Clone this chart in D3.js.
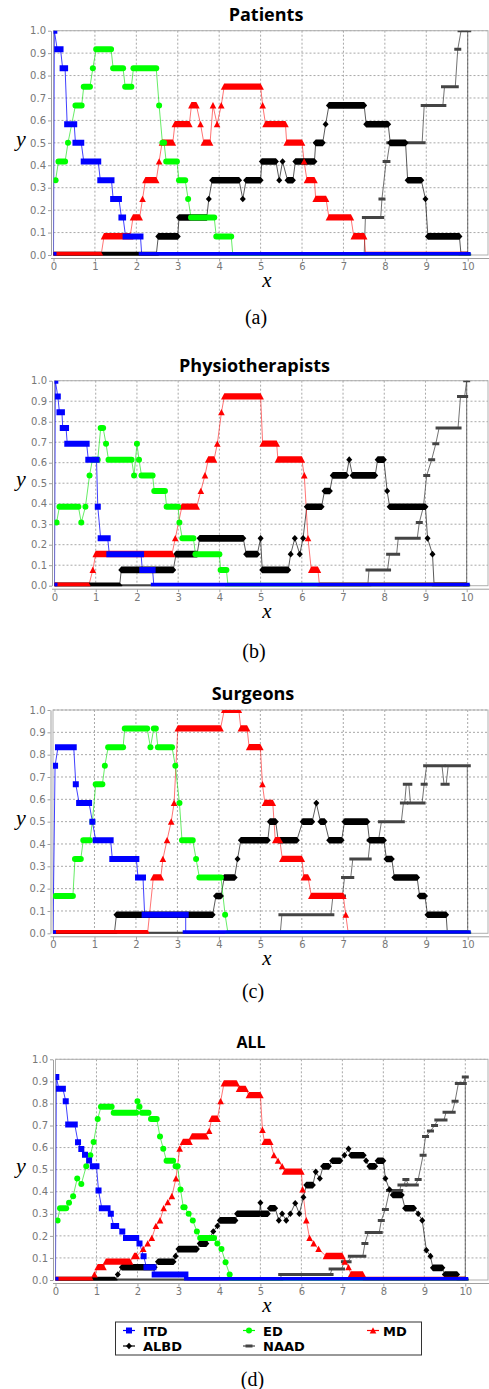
<!DOCTYPE html>
<html>
<head>
<meta charset="utf-8">
<script src="https://cdn.jsdelivr.net/npm/d3@7"></script>
<style>
  body { margin: 0; background: #fff; }
  svg { display: block; }
</style>
</head>
<body>
<div id="chart"></div>
<script>
// Step segments: [xStart, xEnd, y]
// (a marker is drawn at every sample, so a run of equal values shows as a bar)
const seriesNames = ["ITD", "ED", "MD", "ALBD", "NAAD"];
const panelTitles = ["Patients", "Physiotherapists", "Surgeons", "ALL"];
const panelLetters = ["(a)", "(b)", "(c)", "(d)"];
const xTicks = [0, 1, 2, 3, 4, 5, 6, 7, 8, 9, 10];
const yTicks = [0, 0.1, 0.2, 0.3, 0.4, 0.5, 0.6, 0.7, 0.8, 0.9, 1.0];

// (a) Patients
const patITD = [[0,0,0],[0.02,0.02,1],[0.09,0.17,0.917],[0.22,0.28,0.833],[0.33,0.5,0.583],[0.53,0.67,0.5],[0.73,1.08,0.417],[1.13,1.4,0.333],[1.44,1.58,0.25],[1.64,1.68,0.167],[1.74,2.1,0.083],[2.13,10,0]];
const patED = [[0.05,0.05,0.333],[0.12,0.28,0.417],[0.35,0.35,0.5],[0.53,0.68,0.667],[0.73,0.88,0.75],[0.95,0.95,0.833],[1.03,1.39,0.917],[1.44,1.68,0.833],[1.73,1.88,0.75],[1.93,2.48,0.833],[2.55,2.55,0.667],[2.63,2.67,0.5],[2.72,2.98,0.417],[3.03,3.18,0.333],[3.25,3.25,0.25],[3.32,3.88,0.167],[3.93,4.29,0.083],[4.33,10,0]];
const patMD = [[0,1.15,0],[1.22,1.85,0.083],[1.92,2.08,0.167],[2.15,2.15,0.25],[2.22,2.48,0.333],[2.55,2.55,0.417],[2.62,2.88,0.5],[2.93,3.28,0.583],[3.33,3.45,0.667],[3.55,3.55,0.583],[3.63,3.78,0.5],[3.85,3.85,0.667],[3.95,3.95,0.583],[4.05,4.05,0.667],[4.12,5.0,0.75],[5.05,5.05,0.667],[5.12,5.6,0.583],[5.63,6.0,0.5],[6.05,6.05,0.417],[6.12,6.3,0.333],[6.33,6.58,0.25],[6.65,7.18,0.167],[7.25,7.5,0.083],[7.54,10,0]];
const patALBD = [[0,2.48,0],[2.53,3.0,0.083],[3.03,3.7,0.167],[3.75,3.75,0.25],[3.83,4.48,0.333],[4.57,4.57,0.25],[4.65,5.0,0.333],[5.03,5.37,0.417],[5.45,5.45,0.333],[5.53,5.53,0.417],[5.65,5.78,0.333],[5.84,6.3,0.417],[6.33,6.5,0.5],[6.57,6.57,0.583],[6.65,7.5,0.667],[7.55,8.08,0.583],[8.13,8.5,0.5],[8.55,8.88,0.333],[8.98,8.98,0.25],[9.04,9.8,0.083],[9.84,10,0]];
const patNAAD = [[0,7.5,0],[7.53,7.9,0.167],[7.93,7.93,0.25],[8.03,8.05,0.417],[8.12,8.9,0.5],[8.95,9.4,0.667],[9.44,9.7,0.75],[9.76,9.76,0.917],[9.84,10,1.0],[10,10,0]];

// (b) Physiotherapists
const phyITD = [[0,0,0],[0.02,0.02,1],[0.08,0.08,0.923],[0.12,0.18,0.846],[0.2,0.28,0.769],[0.31,0.78,0.692],[0.82,1.02,0.615],[1.05,1.05,0.385],[1.12,1.29,0.231],[1.33,2.1,0.154],[2.13,2.38,0.077],[2.41,10,0]];
const phyED = [[0.05,0.05,0.308],[0.12,0.58,0.385],[0.65,0.65,0.308],[0.75,0.75,0.385],[0.85,0.85,0.538],[0.92,1.05,0.615],[1.12,1.18,0.769],[1.25,1.25,0.692],[1.31,1.87,0.615],[1.93,1.93,0.538],[2.0,2.0,0.692],[2.05,2.05,0.615],[2.11,2.38,0.538],[2.42,2.68,0.462],[2.72,3.0,0.385],[3.03,3.03,0.308],[3.1,3.37,0.231],[3.42,4.0,0.154],[4.03,4.17,0.077],[4.21,10,0]];
const phyMD = [[0,0.83,0],[0.93,0.93,0.077],[1.0,2.85,0.154],[2.93,2.93,0.231],[3.09,3.45,0.385],[3.55,3.55,0.462],[3.65,3.65,0.538],[3.73,3.87,0.615],[3.95,3.95,0.692],[4.05,4.05,0.846],[4.12,5.0,0.923],[5.05,5.39,0.692],[5.42,6.0,0.615],[6.06,6.06,0.538],[6.15,6.15,0.231],[6.23,6.39,0.077],[6.43,10,0]];
const phyALBD = [[0,1.58,0],[1.62,2.88,0.077],[2.95,3.46,0.154],[3.52,4.58,0.231],[4.65,4.92,0.154],[5.0,5.0,0.231],[5.04,5.67,0.077],[5.73,5.73,0.154],[5.83,5.83,0.231],[5.95,5.95,0.154],[6.03,6.03,0.231],[6.12,6.48,0.385],[6.55,6.68,0.462],[6.75,7.08,0.538],[7.15,7.15,0.615],[7.23,7.78,0.538],[7.84,7.99,0.615],[8.07,8.07,0.462],[8.13,9.0,0.385],[9.05,9.05,0.231],[9.17,9.17,0.154],[9.21,10,0]];
const phyNAAD = [[0,7.6,0],[7.63,8.08,0.077],[8.13,8.3,0.154],[8.34,8.8,0.231],[8.85,8.85,0.308],[8.95,8.95,0.385],[9.03,9.03,0.538],[9.15,9.15,0.615],[9.25,9.25,0.692],[9.33,9.79,0.769],[9.85,9.95,0.923],[10,10,1.0],[10,10,0]];

// (c) Surgeons
const surITD = [[0,0,0],[0.05,0.05,0.75],[0.12,0.5,0.833],[0.55,0.55,0.667],[0.63,0.87,0.583],[0.95,0.95,0.5],[1.03,1.39,0.417],[1.43,2.01,0.333],[2.05,2.17,0.25],[2.21,3.2,0.083],[3.2,10,0]];
const surED = [[0.06,0.48,0.167],[0.53,0.67,0.333],[0.73,0.89,0.417],[0.95,0.95,0.5],[1.03,1.19,0.667],[1.25,1.25,0.75],[1.33,1.69,0.833],[1.73,2.27,0.917],[2.35,2.35,0.833],[2.43,2.48,0.917],[2.53,2.87,0.833],[2.95,2.95,0.75],[3.05,3.05,0.583],[3.11,3.37,0.417],[3.45,3.45,0.333],[3.53,4.05,0.25],[4.15,4.15,0.083],[4.22,10,0]];
const surMD = [[0,2.28,0],[2.42,2.6,0.25],[2.65,2.65,0.333],[2.75,2.75,0.417],[2.85,2.85,0.5],[2.92,2.92,0.583],[3.01,4.04,0.917],[4.13,4.48,1.0],[4.53,4.68,0.917],[4.73,5.0,0.833],[5.05,5.05,0.667],[5.11,5.3,0.583],[5.36,5.47,0.417],[5.53,6.0,0.333],[6.05,6.15,0.25],[6.23,7.0,0.167],[7.06,7.06,0.083],[7.12,10,0]];
const surALBD = [[0,1.48,0],[1.53,3.85,0.083],[3.93,4.05,0.167],[4.13,4.38,0.25],[4.45,4.45,0.333],[4.53,5.18,0.417],[5.23,5.37,0.5],[5.43,5.88,0.417],[6.02,6.25,0.5],[6.35,6.35,0.583],[6.45,6.55,0.5],[6.66,6.96,0.417],[7.03,7.58,0.5],[7.63,7.98,0.417],[8.04,8.17,0.333],[8.23,8.78,0.25],[8.84,8.97,0.167],[9.03,9.48,0.083],[9.51,10,0]];
const surNAAD = [[0,5.48,0],[5.52,6.7,0.083],[6.75,6.98,0.167],[7.03,7.18,0.25],[7.23,7.6,0.333],[7.65,7.85,0.417],[7.92,8.4,0.5],[8.45,8.48,0.583],[8.52,8.58,0.667],[8.62,8.9,0.583],[8.95,8.95,0.667],[9.01,9.38,0.75],[9.43,9.48,0.667],[9.53,9.99,0.75],[10,10,0]];

// (d) ALL
const allITD = [[0,0,0],[0.02,0.02,0.92],[0.08,0.18,0.867],[0.25,0.25,0.81],[0.31,0.47,0.705],[0.55,0.55,0.624],[0.63,0.63,0.593],[0.72,0.72,0.568],[0.82,0.82,0.542],[0.91,1.0,0.515],[1.05,1.05,0.405],[1.13,1.27,0.325],[1.35,1.35,0.3],[1.42,1.48,0.245],[1.63,1.63,0.22],[1.72,1.97,0.19],[2.05,2.05,0.165],[2.15,2.15,0.108],[2.22,2.39,0.058],[2.42,3.17,0.025],[3.21,10,0]];
const allED = [[0.05,0.05,0.27],[0.11,0.26,0.325],[0.33,0.33,0.35],[0.43,0.43,0.38],[0.53,0.53,0.46],[0.63,0.63,0.435],[0.75,0.75,0.515],[0.85,0.85,0.565],[0.93,0.93,0.625],[1.03,1.03,0.73],[1.11,1.37,0.785],[1.42,1.97,0.758],[2.0,2.0,0.81],[2.05,2.05,0.785],[2.11,2.27,0.758],[2.33,2.47,0.73],[2.55,2.55,0.65],[2.63,2.63,0.595],[2.71,2.87,0.54],[2.93,2.98,0.515],[3.05,3.05,0.41],[3.12,3.15,0.33],[3.25,3.25,0.3],[3.35,3.35,0.27],[3.45,3.45,0.22],[3.53,3.87,0.19],[3.95,3.95,0.165],[4.05,4.05,0.14],[4.15,4.15,0.08],[4.25,4.25,0.025],[4.3,10,0]];
const allMD = [[0,0.88,0],[0.95,0.95,0.025],[1.03,1.17,0.058],[1.23,1.82,0.083],[1.92,1.98,0.108],[2.14,2.14,0.14],[2.25,2.25,0.165],[2.35,2.35,0.19],[2.45,2.45,0.245],[2.55,2.55,0.27],[2.64,2.64,0.325],[2.74,2.74,0.352],[2.84,2.84,0.38],[2.94,2.94,0.46],[3.03,3.03,0.595],[3.11,3.27,0.625],[3.33,3.67,0.65],[3.75,3.75,0.675],[3.81,3.95,0.73],[4.03,4.03,0.81],[4.11,4.42,0.89],[4.48,4.64,0.865],[4.72,5.0,0.837],[5.05,5.05,0.68],[5.1,5.24,0.625],[5.33,5.33,0.565],[5.43,5.43,0.54],[5.53,5.53,0.515],[5.6,6.0,0.49],[6.03,6.03,0.41],[6.12,6.12,0.27],[6.2,6.2,0.19],[6.3,6.3,0.165],[6.42,6.42,0.14],[6.6,7.0,0.108],[7.06,7.06,0.083],[7.15,7.15,0.058],[7.21,7.5,0.025],[7.55,10,0]];
const allALBD = [[0,1.45,0],[1.52,1.52,0.025],[1.62,2.42,0.058],[2.5,2.88,0.083],[2.93,2.93,0.108],[3.0,3.45,0.14],[3.52,3.68,0.165],[3.76,3.76,0.19],[3.85,3.85,0.22],[3.95,3.95,0.245],[4.01,4.39,0.27],[4.43,4.98,0.3],[5.0,5.0,0.35],[5.02,5.18,0.3],[5.23,5.36,0.325],[5.45,5.45,0.27],[5.53,5.53,0.3],[5.63,5.63,0.27],[5.73,5.73,0.3],[5.85,5.85,0.348],[5.95,5.95,0.3],[6.05,6.05,0.375],[6.12,6.28,0.43],[6.35,6.35,0.49],[6.45,6.45,0.46],[6.53,6.67,0.515],[6.75,6.95,0.54],[7.05,7.05,0.565],[7.15,7.15,0.595],[7.21,7.52,0.565],[7.58,7.58,0.54],[7.66,7.8,0.515],[7.86,8.0,0.54],[8.05,8.05,0.46],[8.15,8.15,0.41],[8.23,8.45,0.385],[8.53,8.75,0.325],[8.85,8.85,0.3],[8.95,8.95,0.27],[9.05,9.05,0.135],[9.15,9.15,0.108],[9.21,9.44,0.055],[9.5,9.8,0.025],[9.85,10,0]];
const allNAAD = [[0,5.47,0],[5.52,6.7,0.025],[6.75,6.98,0.05],[7.05,7.14,0.083],[7.22,7.5,0.108],[7.55,7.55,0.165],[7.63,7.9,0.215],[7.95,7.95,0.27],[8.05,8.05,0.32],[8.15,8.4,0.405],[8.43,8.5,0.43],[8.55,8.55,0.455],[8.62,8.78,0.43],[8.85,8.85,0.455],[8.97,8.97,0.565],[9.03,9.03,0.65],[9.15,9.15,0.675],[9.25,9.25,0.7],[9.33,9.48,0.725],[9.53,9.68,0.76],[9.75,9.75,0.81],[9.83,9.95,0.89],[10,10,0.92],[10,10,0]];

const panels = [
    [patITD, patED, patMD, patALBD, patNAAD],
    [phyITD, phyED, phyMD, phyALBD, phyNAAD],
    [surITD, surED, surMD, surALBD, surNAAD],
    [allITD, allED, allMD, allALBD, allNAAD]
];

// look of each series (same order as seriesNames)
const styles = [
    { color: "#0000ff", line: "#0000ff", lineOpacity: 0.75, shape: "square" },
    { color: "#00ff00", line: "#00e000", lineOpacity: 0.6, shape: "circle" },
    { color: "#ff0000", line: "#ff0000", lineOpacity: 0.55, shape: "triangle" },
    { color: "#000000", line: "#000000", lineOpacity: 0.65, shape: "diamond" },
    { color: "#444444", line: "#444444", lineOpacity: 0.75, shape: "dash" }
];

// pixel layout of each panel
const layout = [
    { x0: 53.5, x10: 467.7, top: 30.7, bottom: 255, titleX: 266, titleY: 21, titleSize: 18, capX: 256, capY: 323.5 },
    { x0: 54.5, x10: 466.7, top: 380.7, bottom: 585.7, titleX: 254.5, titleY: 372, titleSize: 18, capX: 254, capY: 657.5 },
    { x0: 53, x10: 467.7, top: 710, bottom: 933.3, titleX: 253, titleY: 700, titleSize: 18, capX: 253, capY: 998 },
    { x0: 55.5, x10: 465.3, top: 1059.3, bottom: 1280, titleX: 251, titleY: 1048, titleSize: 16, capX: 252.5, capY: 1386 }
];
const frameRight = 488;

// union of the densely repeated markers along one segment
function markerPath(shape, a, b, cy) {
    var p = d3.path();
    if (shape === "square") {
        p.rect(a - 3, cy - 3, b - a + 6, 6);
    } else if (shape === "dash") {
        p.rect(a - 3.5, cy - 1.5, b - a + 7, 3);
    } else if (shape === "triangle") {
        p.moveTo(a - 3.3, cy + 3);
        p.lineTo(a, cy - 3.3);
        p.lineTo(b, cy - 3.3);
        p.lineTo(b + 3.3, cy + 3);
        p.closePath();
    } else if (shape === "diamond") {
        p.moveTo(a - 3, cy);
        p.lineTo(a, cy - 3.3);
        p.lineTo(b, cy - 3.3);
        p.lineTo(b + 3, cy);
        p.lineTo(b, cy + 3.3);
        p.lineTo(a, cy + 3.3);
        p.closePath();
    } else {
        var r = 3;
        p.moveTo(a, cy - r);
        p.lineTo(b, cy - r);
        p.arc(b, cy, r, -Math.PI / 2, Math.PI / 2);
        p.lineTo(a, cy + r);
        p.arc(a, cy, r, Math.PI / 2, Math.PI * 1.5);
        p.closePath();
    }
    return p.toString();
}

var svg = d3.select("#chart")
    .append("svg")
    .attr("width", 489)
    .attr("height", 1389);

panels.forEach(function (series, i) {
    var L = layout[i];
    var x = d3.scaleLinear().domain([0, 10]).range([L.x0, L.x10]);
    var y = d3.scaleLinear().domain([0, 1]).range([L.bottom, L.top]);
    var g = svg.append("g");

    g.append("clipPath")
        .attr("id", "clip" + i)
        .append("rect")
        .attr("x", L.x0)
        .attr("y", L.top)
        .attr("width", frameRight - L.x0)
        .attr("height", L.bottom - L.top + 0.5);

    // grid
    g.append("g").selectAll("line")
        .data(xTicks.slice(1))
        .join("line")
        .attr("x1", d => x(d)).attr("x2", d => x(d))
        .attr("y1", L.top).attr("y2", L.bottom)
        .attr("stroke", "#a8a8a8")
        .attr("stroke-dasharray", "2,2");
    g.append("g").selectAll("line")
        .data(yTicks.slice(1))
        .join("line")
        .attr("x1", L.x0).attr("x2", frameRight)
        .attr("y1", d => y(d)).attr("y2", d => y(d))
        .attr("stroke", "#a8a8a8")
        .attr("stroke-dasharray", "2,2");

    // plot frame
    g.append("rect")
        .attr("x", L.x0).attr("y", L.top)
        .attr("width", frameRight - L.x0)
        .attr("height", L.bottom - L.top)
        .attr("fill", "none")
        .attr("stroke", "#b0b0b0");

    // axes
    var yAxis = g.append("g")
        .attr("transform", "translate(" + (L.x0 - 2.5) + ",0)")
        .call(d3.axisLeft(y).tickValues(yTicks).tickFormat(d3.format(".1f")).tickSize(3).tickSizeOuter(0).tickPadding(2));
    var xAxis = g.append("g")
        .attr("transform", "translate(0," + (L.bottom + 3.5) + ")")
        .call(d3.axisBottom(x).tickValues(xTicks).tickFormat(d3.format("d")).tickSize(3).tickSizeOuter(0).tickPadding(1.5));
    xAxis.select(".domain").attr("d", "M" + (L.x0 - 2.5) + ",0H" + (frameRight + 1));
    [xAxis, yAxis].forEach(function (ax) {
        ax.select(".domain").attr("stroke", "#a0a0a0");
        ax.selectAll(".tick line").attr("stroke", "#a0a0a0");
        ax.selectAll(".tick text")
            .attr("fill", "#777")
            .style("font-family", "'DejaVu Sans', sans-serif")
            .style("font-size", "10px");
    });

    // data: all lines first, then all markers; first series ends up on top
    var plot = g.append("g").attr("clip-path", "url(#clip" + i + ")");
    var line = d3.line().x(p => x(p[0])).y(p => y(p[1]));
    for (var s = series.length - 1; s >= 0; s--) {
        var pts = [];
        series[s].forEach(function (seg) {
            pts.push([seg[0], seg[2]]);
            if (seg[1] !== seg[0]) pts.push([seg[1], seg[2]]);
        });
        plot.append("path")
            .datum(pts)
            .attr("fill", "none")
            .attr("stroke", styles[s].line)
            .attr("stroke-opacity", styles[s].lineOpacity)
            .attr("stroke-width", 1)
            .attr("d", line);
    }
    for (var s2 = series.length - 1; s2 >= 0; s2--) {
        var st = styles[s2];
        plot.append("g").selectAll("path")
            .data(series[s2])
            .join("path")
            .attr("fill", st.color)
            .attr("d", d => markerPath(st.shape, x(d[0]), x(d[1]), y(d[2])));
    }

    // texts
    g.append("text")
        .attr("x", L.titleX).attr("y", L.titleY)
        .attr("text-anchor", "middle")
        .style("font-family", "'Open Sans', sans-serif")
        .style("font-weight", "bold")
        .style("font-size", L.titleSize + "px")
        .text(panelTitles[i]);
    g.append("text")
        .attr("x", 21).attr("y", (L.top + L.bottom) / 2 + 3)
        .attr("text-anchor", "middle")
        .style("font-family", "'Liberation Serif', serif")
        .style("font-style", "italic")
        .style("font-size", "22px")
        .text("y");
    g.append("text")
        .attr("x", 267).attr("y", L.bottom + 32)
        .attr("text-anchor", "middle")
        .style("font-family", "'Liberation Serif', serif")
        .style("font-style", "italic")
        .style("font-size", "21px")
        .text("x");
    g.append("text")
        .attr("x", L.capX).attr("y", L.capY)
        .attr("text-anchor", "middle")
        .style("font-family", "'Liberation Serif', serif")
        .style("font-size", "20px")
        .text(panelLetters[i]);
});

// legend under the last panel
var legendPos = [[129, 1330.5], [249, 1330.5], [373, 1330.5], [129, 1346], [249, 1346]];
var legend = svg.append("g");
legend.append("rect")
    .attr("x", 115.5).attr("y", 1322)
    .attr("width", 306).attr("height", 33)
    .attr("fill", "#fff")
    .attr("stroke", "#333");
seriesNames.forEach(function (name, s) {
    var cx = legendPos[s][0], cy = legendPos[s][1];
    var item = legend.append("g");
    item.append("line")
        .attr("x1", cx - 6).attr("x2", cx + 6)
        .attr("y1", cy).attr("y2", cy)
        .attr("stroke", styles[s].color)
        .attr("stroke-width", 1.2);
    item.append("path")
        .attr("fill", styles[s].color)
        .attr("d", markerPath(styles[s].shape, cx, cx, cy));
    item.append("text")
        .attr("x", cx + (s === 2 ? 10 : 14)).attr("y", cy + 5)
        .style("font-family", "'DejaVu Sans', sans-serif")
        .style("font-weight", "bold")
        .style("font-size", "13px")
        .text(name);
});
</script>
</body>
</html>
